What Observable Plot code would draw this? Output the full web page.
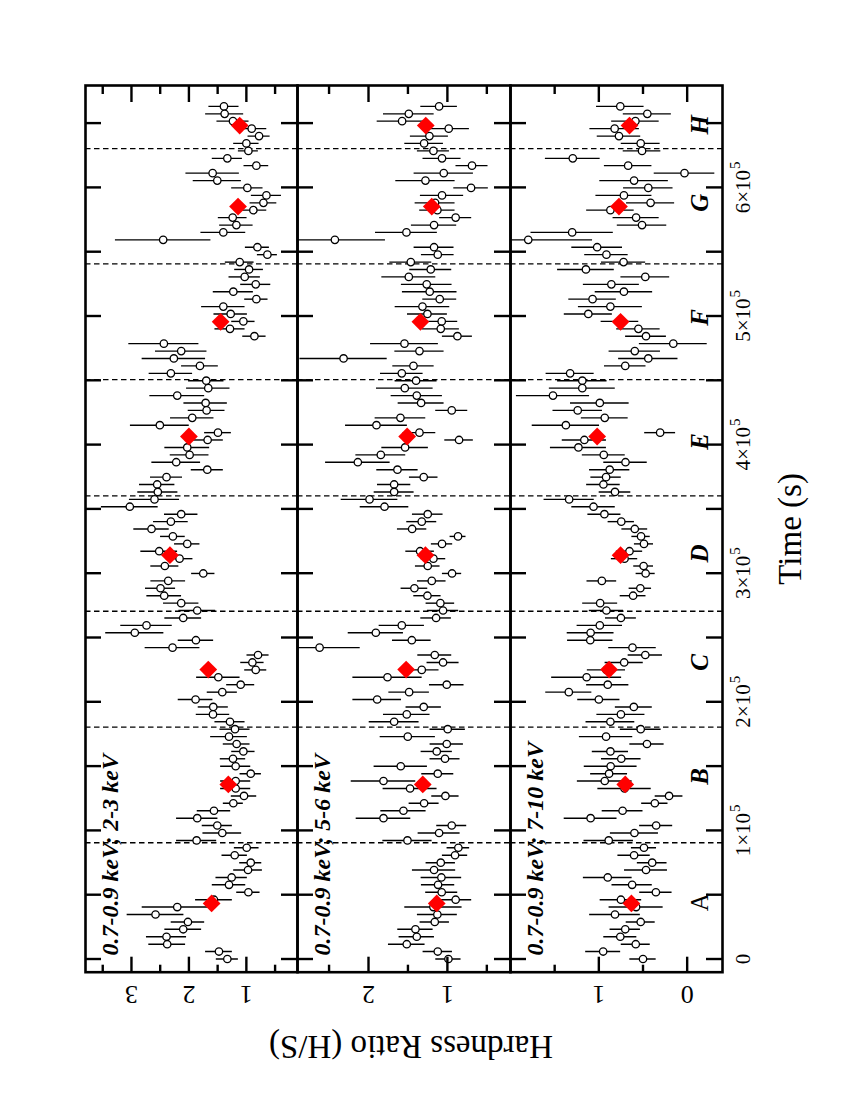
<!DOCTYPE html>
<html><head><meta charset="utf-8">
<script src="https://cdn.jsdelivr.net/npm/d3@7"></script>
<script src="https://cdn.jsdelivr.net/npm/@observablehq/plot@0.6"></script>
<style>
html,body{margin:0;padding:0;background:#fff;width:850px;height:1100px;overflow:hidden;}
#rot{position:absolute;left:0;top:0;width:1100px;height:850px;transform-origin:0 0;transform:translate(0px,1100px) rotate(-90deg);background:#fff;}
#rot svg{display:block;overflow:visible;}
</style></head><body><div id="rot"></div>
<script>
// time of each bin (ks), latest first
const timeKs = [
663.0,657.2,651.5,645.7,639.9,634.2,628.4,622.6,616.9,611.1,
605.3,599.6,593.8,588.0,582.3,576.5,570.7,565.0,559.2,553.5,
547.7,541.9,536.2,530.4,524.6,518.9,513.1,507.3,501.6,495.8,
490.0,484.3,478.5,472.7,467.0,461.2,455.4,449.7,443.9,438.1,
432.4,426.6,420.8,415.1,409.3,403.6,397.8,392.0,386.3,380.5,
374.7,369.0,363.2,357.4,351.7,345.9,340.1,334.4,328.6,322.8,
317.1,311.3,305.6,299.8,294.0,288.3,282.5,276.7,271.0,265.2,
259.4,253.7,247.9,242.1,236.4,230.6,224.8,219.1,213.3,207.5,
201.8,196.0,190.2,184.5,178.7,172.9,167.2,161.4,155.7,149.9,
144.1,138.4,132.6,126.8,121.1,115.3,109.5,103.8,98.0,92.2,
86.5,80.7,74.9,69.2,63.4,57.7,51.9,46.1,40.4,34.6,
28.8,23.1,17.3,11.5,5.8,0];

const hr1 = [
1.390,1.378,1.233,0.907,0.779,1.000,0.965,1.331,0.826,1.587,
1.506,0.983,0.651,0.703,0.878,1.238,1.174,1.401,2.448,0.808,
0.634,1.116,0.953,1.029,0.837,1.227,0.826,1.401,1.273,1.052,
1.285,0.860,2.436,2.134,2.262,1.808,2.314,1.698,1.663,2.203,
1.709,1.692,1.942,2.506,1.494,1.674,2.029,1.988,2.221,1.680,
2.390,2.552,2.541,2.599,3.029,2.134,2.314,2.651,2.279,2.029,
2.517,2.163,2.419,1.750,2.360,2.494,2.430,2.134,1.855,2.099,
2.738,2.942,1.878,2.285,0.797,0.895,0.837,1.488,1.099,1.419,
1.884,1.576,1.581,1.285,1.198,1.302,1.169,1.052,1.233,1.186,
0.924,1.186,1.186,1.041,1.227,1.564,1.855,1.506,1.419,1.866,
0.994,1.203,0.924,0.971,1.256,1.302,0.965,1.564,2.203,2.581,
2.017,2.099,2.390,2.378,1.477,1.331];
const err1 = [
.262,.331,.279,.262,.192,.221,.174,.262,.215,.465,
.419,.273,.262,.233,.233,.250,.291,.390,.831,.209,
.174,.250,.250,.273,.262,.349,.203,.378,.291,.203,
.262,.203,.610,.448,.552,.320,.378,.308,.378,.477,
.378,.320,.378,.512,.233,.273,.390,.337,.424,.279,
.279,.308,.349,.436,.494,.291,.302,.308,.215,.221,
.320,.233,.244,.203,.302,.262,.302,.308,.320,.320,
.448,.506,.308,.477,.192,.203,.192,.378,.244,.262,
.302,.262,.291,.262,.262,.320,.233,.203,.221,.262,
.186,.262,.262,.221,.174,.291,.360,.262,.337,.349,
.215,.221,.192,.250,.273,.291,.203,.320,.610,.494,
.291,.320,.349,.320,.233,.192];

const hr2 = [
1.105,1.489,1.574,0.983,1.228,1.295,1.177,1.068,0.688,1.046,
1.278,0.700,1.068,1.156,1.127,0.895,1.169,1.519,2.426,1.169,
1.122,1.464,1.211,1.489,1.262,1.224,1.097,1.316,1.253,1.072,
1.084,0.873,1.544,1.354,2.316,1.430,1.578,1.397,1.540,1.388,
1.333,0.945,1.595,1.899,1.354,0.852,1.536,1.844,2.135,1.633,
1.300,1.675,1.675,1.987,1.797,1.249,1.325,1.447,0.865,1.068,
1.346,1.177,1.249,0.941,1.198,1.418,1.253,1.089,1.055,1.143,
1.578,1.907,1.451,2.620,1.160,1.055,1.325,1.759,1.008,1.485,
1.890,1.300,1.515,1.675,0.996,1.502,1.008,1.135,1.030,1.591,
1.122,1.810,1.473,1.025,1.295,1.557,1.810,0.945,1.105,1.506,
0.861,0.903,1.084,1.169,1.076,1.118,1.072,0.895,1.177,1.127,
1.160,1.405,1.388,1.515,1.122,0.987];
const err2 = [
.232,.321,.316,.262,.241,.245,.203,.241,.203,.376,
.376,.219,.274,.253,.224,.203,.287,.392,.641,.253,
.207,.266,.266,.342,.321,.346,.215,.346,.253,.203,
.236,.190,.430,.312,.553,.262,.270,.266,.359,.325,
.291,.203,.321,.392,.207,.181,.295,.316,.409,.262,
.181,.211,.253,.359,.308,.194,.190,.186,.101,.135,
.181,.156,.156,.122,.181,.169,.173,.181,.198,.194,
.287,.350,.245,.515,.215,.203,.219,.439,.219,.257,
.308,.224,.295,.316,.224,.350,.211,.198,.190,.338,
.203,.409,.342,.173,.190,.287,.346,.190,.266,.312,
.143,.160,.186,.274,.257,.211,.203,.203,.363,.253,
.186,.224,.224,.232,.186,.160];

const hr3 = [
0.757,0.451,0.586,0.821,0.772,0.526,0.511,1.295,0.668,0.030,
0.601,0.440,0.716,0.414,0.869,0.578,0.511,1.302,1.799,1.019,
0.914,0.720,1.146,0.474,0.858,0.716,1.071,0.869,1.119,0.761,
0.552,0.466,0.157,0.593,0.440,0.701,1.325,1.187,1.187,1.519,
0.989,1.239,0.933,1.373,0.306,1.164,1.231,0.944,0.698,0.877,
0.918,0.948,0.817,1.336,1.060,0.937,0.746,0.593,0.522,0.489,
0.653,0.709,0.493,0.470,0.966,0.530,0.612,0.985,0.914,0.750,
0.989,1.093,1.097,0.619,0.474,0.713,0.914,1.138,0.899,1.340,
1.000,0.604,0.750,0.869,0.526,0.918,0.455,0.869,0.746,0.866,
0.884,0.933,0.709,0.205,0.366,0.731,1.093,0.351,0.597,0.888,
0.489,0.601,0.396,0.466,0.899,0.623,0.354,0.750,0.578,0.817,
0.526,0.701,0.757,0.582,0.951,0.500];
const err3 = [
.269,.272,.269,.280,.246,.220,.213,.310,.269,.343,
.388,.280,.317,.272,.269,.261,.280,.466,.728,.287,
.246,.250,.321,.276,.317,.325,.269,.362,.272,.213,
.246,.231,.384,.291,.336,.235,.272,.280,.373,.414,
.332,.280,.265,.381,.175,.250,.317,.243,.246,.228,
.172,.190,.179,.284,.246,.187,.149,.146,.104,.108,
.149,.149,.112,.108,.168,.127,.146,.198,.194,.175,
.257,.265,.257,.269,.194,.216,.216,.396,.239,.261,
.239,.209,.272,.276,.231,.302,.194,.205,.224,.299,
.209,.310,.302,.157,.149,.231,.299,.187,.272,.280,
.142,.183,.168,.243,.276,.228,.183,.235,.306,.287,
.164,.172,.187,.164,.198,.149];

// segment boundaries, segment means
const boundariesKs = [90.4, 180.3, 270.4, 360.2, 450.6, 540.6, 630.2];
const segLabels = ["A","B","C","D","E","F","G","H"];
const segTimeKs = [43.2, 135.7, 225.1, 314.0, 406.3, 495.5, 585.1, 648.1];
const segLabelTimeKs = [44.2, 141.9, 230.6, 315.3, 402.4, 499.0, 588.0, 648.7];
const seg1 = [1.605, 1.314, 1.663, 2.330, 2.000, 1.448, 1.145, 1.116];
const seg2 = [1.135, 1.312, 1.523, 1.278, 1.510, 1.342, 1.198, 1.274];
const seg3 = [0.631, 0.701, 0.884, 0.754, 1.019, 0.754, 0.772, 0.653];

const panelLabels = ["0.7-0.9 keV; 2-3 keV", "0.7-0.9 keV; 5-6 keV", "0.7-0.9 keV; 7-10 keV"];
const yDomains = [[0.11, 3.8], [0.2, 2.9], [-0.4, 2.0]];
const majorTicks = [[1, 2, 3], [1, 2], [0, 1]];
const minorTicks = [[0.5, 1.5, 2.5, 3.5], [0.5, 1.5, 2.5], [0.5, 1.5]];
const timeTicksKs = [0,50,100,150,200,250,300,350,400,450,500,550,600,650];
const timeLabelKs = [0,100,200,300,400,500,600];
const timeLabelMant = ["0","1×10","2×10","3×10","4×10","5×10","6×10"];
const timeLabelExp = ["","5","5","5","5","5","5"];

const hrs = [hr1, hr2, hr3], errs = [err1, err2, err3], segs = [seg1, seg2, seg3];
const serif = "'Liberation Serif','Times New Roman',Times,serif";
const W = 1100, ML = 127.3, MR = 86;
const PW = W - ML - MR;
const layout = [
  {height: 297, mt: 85, mb: 0},
  {height: 213, mt: 0, mb: 0},
  {height: 340, mt: 0, mb: 128}
];

function panel(i) {
  const L = layout[i];
  const PH = L.height - L.mt - L.mb;
  const data = timeKs.map((t, k) => ({t: t * 1000, h: hrs[i][k], e: errs[i][k]}));
  const seg = segTimeKs.map((t, k) => ({t: t * 1000, h: segs[i][k]}));
  const marks = [
    Plot.ruleX(boundariesKs, {x: d => d * 1000, stroke: "#000", strokeWidth: 1.3, strokeDasharray: "5.5,3.5"}),
    Plot.ruleX(data, {x: "t", y1: d => d.h - d.e, y2: d => d.h + d.e, stroke: "#000", strokeWidth: 1.4, clip: true}),
    Plot.dot(data, {x: "t", y: "h", r: 3.7, stroke: "#000", fill: "#fff", strokeWidth: 1.3}),
    Plot.dot(seg, {x: "t", y: "h", symbol: "diamond2", r: 8, fill: "#ff0000", stroke: "none"}),
    Plot.ruleX(timeTicksKs, {x: d => d * 1000, insetTop: PH - 16, stroke: "#000", strokeWidth: 2.4}),
    Plot.ruleX(timeTicksKs, {x: d => d * 1000, insetBottom: PH - 16, stroke: "#000", strokeWidth: 2.4}),
    Plot.ruleY(majorTicks[i], {y: d => d, insetRight: PW - 16, stroke: "#000", strokeWidth: 2.4}),
    Plot.ruleY(majorTicks[i], {y: d => d, insetLeft: PW - 16, stroke: "#000", strokeWidth: 2.4}),
    Plot.ruleY(minorTicks[i], {y: d => d, insetRight: PW - 8, stroke: "#000", strokeWidth: 2.4}),
    Plot.ruleY(minorTicks[i], {y: d => d, insetLeft: PW - 8, stroke: "#000", strokeWidth: 2.4}),
    Plot.frame({stroke: "#000", strokeWidth: 2.6}),
    Plot.text([panelLabels[i]], {text: d => d, frameAnchor: "top-left", dx: 16.7, dy: 32, textAnchor: "start", lineAnchor: "bottom",
      fontFamily: serif, fontWeight: "bold", fontStyle: "italic", fontSize: 24, fill: "#000"}),
    Plot.text(majorTicks[i], {y: d => d, text: d => String(d), frameAnchor: "left", dx: -14, rotate: -90,
      textAnchor: "middle", lineAnchor: "bottom", fontFamily: serif, fontSize: 26, fill: "#000"})
  ];
  if (i === 1) {
    marks.push(Plot.text(["Hardness Ratio (H/S)"], {text: d => d, frameAnchor: "left", dx: -63.3, dy: 7, rotate: -90,
      textAnchor: "middle", lineAnchor: "bottom", fontFamily: serif, fontSize: 33, fill: "#000"}));
  }
  if (i === 2) {
    marks.push(
      Plot.text(segLabels.slice(0, 1), {x: (d, k) => segLabelTimeKs[k] * 1000, text: d => d, frameAnchor: "bottom", dy: -15,
        lineAnchor: "bottom", textAnchor: "middle", fontFamily: serif, fontSize: 25, fill: "#000"}),
      Plot.text(segLabels.slice(1), {x: (d, k) => segLabelTimeKs[k + 1] * 1000, text: d => d, frameAnchor: "bottom", dy: -15,
        lineAnchor: "bottom", textAnchor: "middle", fontFamily: serif, fontWeight: "bold", fontStyle: "italic", fontSize: 25, fill: "#000"}),
      Plot.text(timeLabelKs.slice(0, 1), {x: d => d * 1000, text: (d, k) => timeLabelMant[k], frameAnchor: "bottom", dy: 27,
        lineAnchor: "bottom", textAnchor: "middle", fontFamily: serif, fontSize: 21, fill: "#000"}),
      Plot.text(timeLabelKs.slice(1), {x: d => d * 1000, text: (d, k) => timeLabelMant[k + 1], frameAnchor: "bottom", dy: 27, dx: 17.5,
        lineAnchor: "bottom", textAnchor: "end", fontFamily: serif, fontSize: 21, fill: "#000"}),
      Plot.text(timeLabelKs.slice(1), {x: d => d * 1000, text: (d, k) => timeLabelExp[k + 1], frameAnchor: "bottom", dy: 17, dx: 18.5,
        lineAnchor: "bottom", textAnchor: "start", fontFamily: serif, fontSize: 15, fill: "#000"}),
      Plot.text(["Time (s)"], {text: d => d, frameAnchor: "bottom", dy: 78, lineAnchor: "bottom", textAnchor: "middle",
        fontFamily: serif, fontSize: 33, fill: "#000"})
    );
  }
  return Plot.plot({
    width: W, height: L.height,
    marginTop: L.mt, marginBottom: L.mb, marginLeft: ML, marginRight: MR,
    x: {type: "linear", domain: [-10260, 679240], axis: null},
    y: {type: "linear", domain: yDomains[i], axis: null},
    style: {background: "transparent", overflow: "visible"},
    marks
  });
}

const root = document.getElementById("rot");
for (let i = 0; i < 3; i++) root.appendChild(panel(i));
</script>
</body></html>
